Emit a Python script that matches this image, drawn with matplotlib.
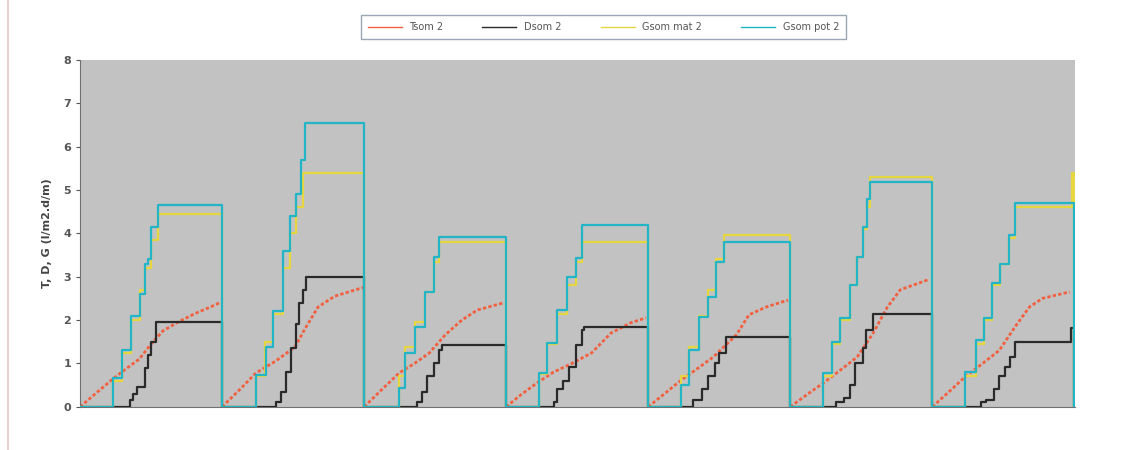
import matplotlib
matplotlib.use("Agg")
import matplotlib.pyplot as plt
from matplotlib.lines import Line2D

# one cycle = 24 h, seven cycles side by side
cycle_len = 24

# Tsom 2 : (hour in cycle, value)
tsom_h = [[0, 3, 5.6, 8, 10, 12, 14, 16.5, 19.4, 22, 23.6],
          [0, 3, 5.7, 9, 12.3, 14, 16.2, 19, 23.8],
          [0, 3, 5.9, 8.5, 11, 13.7, 16.5, 19.1, 23.6],
          [0, 2.5, 5.2, 8, 11.1, 14.4, 17.7, 21.1, 23.6],
          [0, 3, 5.6, 8.5, 11, 14.9, 17, 19.9, 23.6],
          [0, 3, 5.6, 8.5, 11.3, 14, 16.4, 18.6, 23.3],
          [0, 3, 5.6, 8.5, 11.3, 14, 16.4, 18.6, 23.2]]
tsom_v = [[0, 0.35, 0.65, 0.9, 1.1, 1.45, 1.75, 1.95, 2.15, 2.3, 2.4],
          [0, 0.4, 0.78, 1.05, 1.38, 1.8, 2.3, 2.55, 2.75],
          [0, 0.4, 0.78, 1.0, 1.24, 1.66, 2.0, 2.23, 2.4],
          [0, 0.28, 0.55, 0.8, 1.0, 1.24, 1.7, 1.94, 2.05],
          [0, 0.33, 0.62, 0.9, 1.15, 1.66, 2.12, 2.3, 2.46],
          [0, 0.3, 0.55, 0.85, 1.15, 1.7, 2.3, 2.7, 2.93],
          [0, 0.37, 0.7, 1.0, 1.3, 1.85, 2.3, 2.5, 2.65]]

# Dsom 2 : step changes
dsom_h = [[8.4, 8.9, 9.7, 10.9, 11.4, 12.0, 12.8],
          [9.1, 10.0, 10.8, 11.6, 12.4, 13.0, 13.6, 14.2],
          [8.9, 9.7, 10.6, 11.8, 12.7, 13.2],
          [8.0, 8.6, 9.6, 10.6, 11.8, 12.8, 13.2],
          [7.5, 9.0, 10.1, 11.2, 12.0, 13.2],
          [7.8, 9.0, 10.1, 11.0, 12.2, 12.8, 13.9],
          [8.2, 9.0, 10.5, 11.3, 12.2, 13.2, 14.0, 23.4]]
dsom_v = [[0.15, 0.3, 0.45, 0.9, 1.2, 1.5, 1.95],
          [0.1, 0.35, 0.8, 1.35, 1.9, 2.4, 2.7, 3.0],
          [0.1, 0.35, 0.7, 1.0, 1.3, 1.43],
          [0.1, 0.4, 0.6, 0.92, 1.43, 1.77, 1.85],
          [0.15, 0.4, 0.7, 1.0, 1.24, 1.61],
          [0.1, 0.2, 0.5, 1.0, 1.36, 1.77, 2.14],
          [0.1, 0.15, 0.4, 0.7, 0.92, 1.15, 1.5, 1.82]]

# Gsom mat 2 : step changes
gmat_h = [[5.6, 7.1, 8.6, 10.1, 11.0, 12.0, 13.2],
          [5.7, 7.3, 8.6, 10.3, 11.5, 12.5, 13.6],
          [5.9, 6.9, 8.6, 10.3, 11.8, 12.7],
          [5.6, 6.9, 8.6, 10.3, 11.8, 12.8],
          [5.6, 6.9, 8.6, 10.1, 11.5, 12.8],
          [5.6, 7.1, 8.4, 10.1, 11.3, 12.2, 12.9, 13.5],
          [5.6, 7.3, 8.8, 10.1, 11.5, 13.0, 13.9, 23.6]]
gmat_v = [[0.6, 1.25, 2.0, 2.7, 3.2, 3.85, 4.45],
          [0.72, 1.5, 2.15, 3.2, 4.0, 4.6, 5.4],
          [0.7, 1.38, 1.95, 2.65, 3.35, 3.8],
          [0.75, 1.45, 2.15, 2.8, 3.35, 3.8],
          [0.7, 1.38, 2.1, 2.7, 3.4, 3.95],
          [0.72, 1.45, 2.0, 2.8, 3.45, 4.1, 4.6, 5.3],
          [0.7, 1.45, 2.0, 2.8, 3.3, 3.9, 4.6, 5.4]]

# Gsom pot 2 : step changes
gpot_h = [[5.6, 7.1, 8.6, 10.1, 11.0, 11.5, 12.0, 13.2],
          [5.7, 7.4, 8.6, 10.3, 11.5, 12.5, 13.3, 14.0],
          [5.9, 6.9, 8.6, 10.3, 11.8, 12.7],
          [5.6, 6.9, 8.6, 10.3, 11.8, 12.8],
          [5.6, 6.9, 8.6, 10.1, 11.5, 12.8],
          [5.6, 7.1, 8.4, 10.1, 11.3, 12.2, 12.9, 13.5],
          [5.6, 7.3, 8.8, 10.1, 11.5, 13.0, 13.9]]
gpot_v = [[0.67, 1.3, 2.1, 2.6, 3.3, 3.4, 4.15, 4.65],
          [0.74, 1.38, 2.2, 3.6, 4.4, 4.9, 5.7, 6.55],
          [0.43, 1.24, 1.85, 2.65, 3.46, 3.92],
          [0.78, 1.47, 2.23, 3.0, 3.43, 4.19],
          [0.5, 1.3, 2.07, 2.53, 3.34, 3.8],
          [0.78, 1.5, 2.05, 2.8, 3.46, 4.15, 4.8, 5.18],
          [0.8, 1.54, 2.05, 2.85, 3.3, 3.96, 4.7]]


def steps(hours, vals):
    # build a step line: each cycle starts and ends at 0
    xs, ys = [], []
    for d, (h, v) in enumerate(zip(hours, vals)):
        off = d * cycle_len
        xs += [off] + [off + t for t in h] + [off + cycle_len]
        ys += [0] + list(v) + [0]
    return xs, ys


c_t = '#f2603f'
c_d = '#2a2a2a'
c_mat = '#e6d640'
c_pot = '#22b5c6'

fig = plt.figure(figsize=(11.28, 4.5), dpi=100)
fig.patch.set_facecolor('white')
# left edge of the chart frame
fig.add_artist(Line2D([0.0075, 0.0075], [0.0, 1.0], transform=fig.transFigure,
                      color='#e2c8c4', lw=1.2))
ax = fig.add_axes([0.071, 0.096, 0.882, 0.771])
ax.set_facecolor('#c2c2c2')

for d, (h, v) in enumerate(zip(tsom_h, tsom_v)):
    ax.plot([d * cycle_len + t for t in h], v, color=c_t, lw=2.0,
            linestyle=(0, (1.2, 0.8)), zorder=2)

x, y = steps(dsom_h, dsom_v)
ax.step(x, y, where='post', color=c_d, lw=1.6, zorder=3)
x, y = steps(gmat_h, gmat_v)
ax.step(x, y, where='post', color=c_mat, lw=1.6, zorder=4)
x, y = steps(gpot_h, gpot_v)
ax.step(x, y, where='post', color=c_pot, lw=1.6, zorder=5)

ax.set_xlim(0, 7 * cycle_len + 0.1)
ax.set_ylim(0, 8)
ax.set_yticks(range(0, 9))
ax.set_xticks([])
ax.tick_params(axis='y', labelsize=8, colors='#555555', length=3)
for lab in ax.get_yticklabels():
    lab.set_fontweight('bold')
for s in ['top', 'right']:
    ax.spines[s].set_visible(False)
ax.spines['left'].set_color('#707070')
ax.spines['bottom'].set_color('#707070')
ax.set_ylabel('T, D, G (l/m2.d/m)', fontsize=8, fontweight='bold', color='#444444',
              labelpad=8)

handles = [Line2D([], [], color=c_t, lw=1),
           Line2D([], [], color=c_d, lw=1),
           Line2D([], [], color=c_mat, lw=1),
           Line2D([], [], color=c_pot, lw=1)]
leg = fig.legend(handles, ['Tsom 2', 'Dsom 2', 'Gsom mat 2', 'Gsom pot 2'],
                 loc='center', bbox_to_anchor=(0.535, 0.94), ncol=4,
                 fontsize=7, frameon=True, fancybox=False, handlelength=3.5,
                 columnspacing=4, borderpad=0.7)
leg.get_frame().set_edgecolor('#8090a0')
leg.get_frame().set_linewidth(1)
for t in leg.get_texts():
    t.set_color('#555555')

fig.savefig('out.png', dpi=100)
